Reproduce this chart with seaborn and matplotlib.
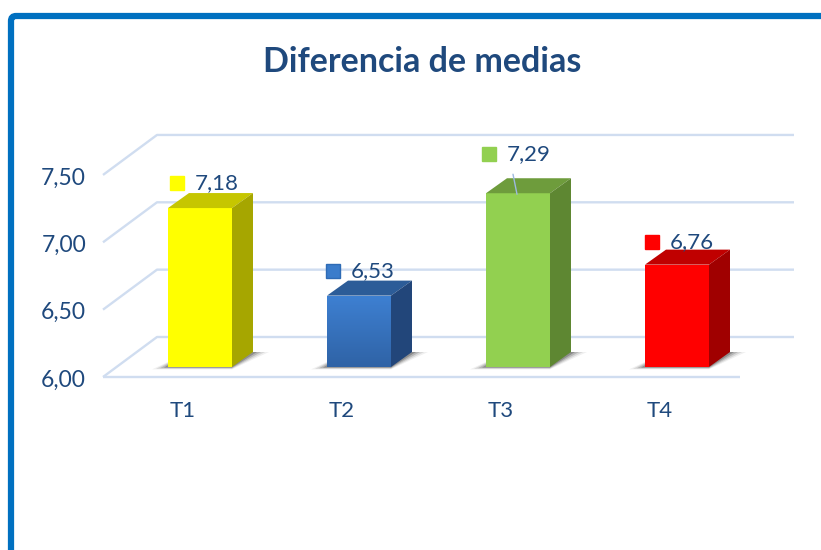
import numpy as np
import pandas as pd
import matplotlib
matplotlib.use("Agg")
import matplotlib.pyplot as plt
import seaborn as sns
from matplotlib.patches import Polygon, FancyBboxPatch

# ---------------- data ----------------
categories = ["T1", "T2", "T3", "T4"]
values = [7.18, 6.53, 7.29, 6.76]
ytick_values = [6.0, 6.5, 7.0, 7.5]
ytick_labels = ["6,00", "6,50", "7,00", "7,50"]
value_labels = ["7,18", "6,53", "7,29", "6,76"]
title_text = "Diferencia de medias"

# ---------------- style ----------------
front_colors = ["#FFFF00", "#3A7CCB", "#92D050", "#FF0000"]
top_colors = ["#C6C600", "#2C5C98", "#6E9C3C", "#C00000"]
side_colors = ["#A6A600", "#22467A", "#5E8732", "#A00000"]
text_color = "#1F497D"
grid_color = "#D0DDF0"
border_color = "#0070C0"

sns.set_theme(style="white")
plt.rcParams["font.family"] = ["Lato", "DejaVu Sans"]

W, H = 821, 550
fig = plt.figure(figsize=(W / 100, H / 100), dpi=100)
ax = fig.add_axes([0, 0, 1, 1])

# pixel <-> data mapping (bar plane)
X0, SX = 200.0, 159.0
Y0, SY = 367.0, 134.7
BASE = 6.0

def px_x(dpx):
    return dpx / SX

def px_y(dpx):
    return dpx / SY

df = pd.DataFrame({"cat": categories, "val": values})
sns.barplot(data=df, x="cat", y="val", hue="cat", palette=front_colors,
            saturation=1, width=64 / SX, legend=False, ax=ax, zorder=5,
            linewidth=0)

ax.set_xlim((0 - X0) / SX, (W - X0) / SX)
ax.set_ylim(BASE - (H - Y0) / SY, BASE + Y0 / SY)
ax.axis("off")

# ---------------- 3D grid ----------------
xf = px_x(103 - X0)
xb0 = px_x(157 - X0)
xb1 = px_x(794 - X0)
for v in ytick_values:
    yf = v - px_y(10)
    yb = v + px_y(30)
    ax.plot([xf, xb0, xb1], [yf, yb, yb], color=grid_color, lw=1.7,
            zorder=1, solid_capstyle="butt")
ax.plot([xf, px_x(740 - X0)], [BASE - px_y(10)] * 2, color=grid_color,
        lw=1.7, zorder=1, solid_capstyle="butt")

# ---------------- 3D bars ----------------
ddx, ddy = px_x(21), px_y(15)
for i, p in enumerate(ax.patches[:len(values)]):
    top = p.get_height()
    x0 = p.get_x()
    w = p.get_width()
    x1 = x0 + w
    p.set_y(BASE)
    p.set_height(top - BASE)
    # shadow (soft, layered)
    for k, a in zip([16, 12, 8, 4], [0.06, 0.10, 0.15, 0.22]):
        sh = Polygon([(x0 - px_x(k), BASE - px_y(k * 0.15)),
                      (x1, BASE - px_y(k * 0.15)),
                      (x1 + ddx + px_x(k), BASE + ddy),
                      (x0 + ddx, BASE + ddy)],
                     closed=True, facecolor="black", alpha=a, lw=0, zorder=3)
        ax.add_patch(sh)
    topface = Polygon([(x0, top), (x1, top), (x1 + ddx, top + ddy),
                       (x0 + ddx, top + ddy)], closed=True,
                      facecolor=top_colors[i], lw=0, zorder=6)
    side = Polygon([(x1, BASE), (x1, top), (x1 + ddx, top + ddy),
                    (x1 + ddx, BASE + ddy)], closed=True,
                   facecolor=side_colors[i], lw=0, zorder=6)
    ax.add_patch(topface)
    ax.add_patch(side)
    if i == 1:
        grad = np.linspace(0, 1, 64).reshape(-1, 1)
        cmap = matplotlib.colors.LinearSegmentedColormap.from_list(
            "b", ["#2F63A6", "#3E80D2"])
        im = ax.imshow(grad, extent=(x0, x1, BASE, top), origin="lower",
                       cmap=cmap, aspect="auto", zorder=5.5)
        im.set_clip_path(p)

# ---------------- data labels ----------------
label_up_px = [25, 25, 39, 23]
label_dx_px = [-23, -26, -29, -25]
for i, v in enumerate(values):
    ly = v + px_y(label_up_px[i])
    sx = i + px_x(label_dx_px[i])
    ax.plot([sx], [ly], marker="s", ms=9.5, color=front_colors[i],
            mec=front_colors[i] if i != 1 else "#2E6BB5", zorder=8)
    ax.text(sx + px_x(18), ly, value_labels[i], ha="left", va="center",
            fontsize=16, color=text_color, zorder=9)
    if i == 2:
        ax.plot([i - px_x(5), i - px_x(1)], [ly - px_y(20), v - px_y(1)],
                color="#9DB9E0", lw=1, zorder=9)

# ---------------- axis labels ----------------
for v, lab in zip(ytick_values, ytick_labels):
    ax.text(px_x(86 - X0), v - px_y(13), lab, ha="right", va="center",
            fontsize=16.5, color=text_color)
for i, c in enumerate(categories):
    ax.text(i - px_x(17), BASE - px_y(44), c, ha="center", va="center",
            fontsize=16, color=text_color)

# ---------------- title & border ----------------
fig.text(422 / W, 1 - 72 / H, title_text, ha="center", va="baseline",
         fontsize=24.5, fontweight="bold", color=text_color)

border = FancyBboxPatch((11, -30), 860, 550 - 16 + 30,
                        boxstyle="round,pad=0,rounding_size=5",
                        fill=False, edgecolor=border_color, linewidth=4.5,
                        transform=None, figure=fig)
fig.patches.append(border)

fig.savefig("out.png", dpi=100, facecolor="white")
